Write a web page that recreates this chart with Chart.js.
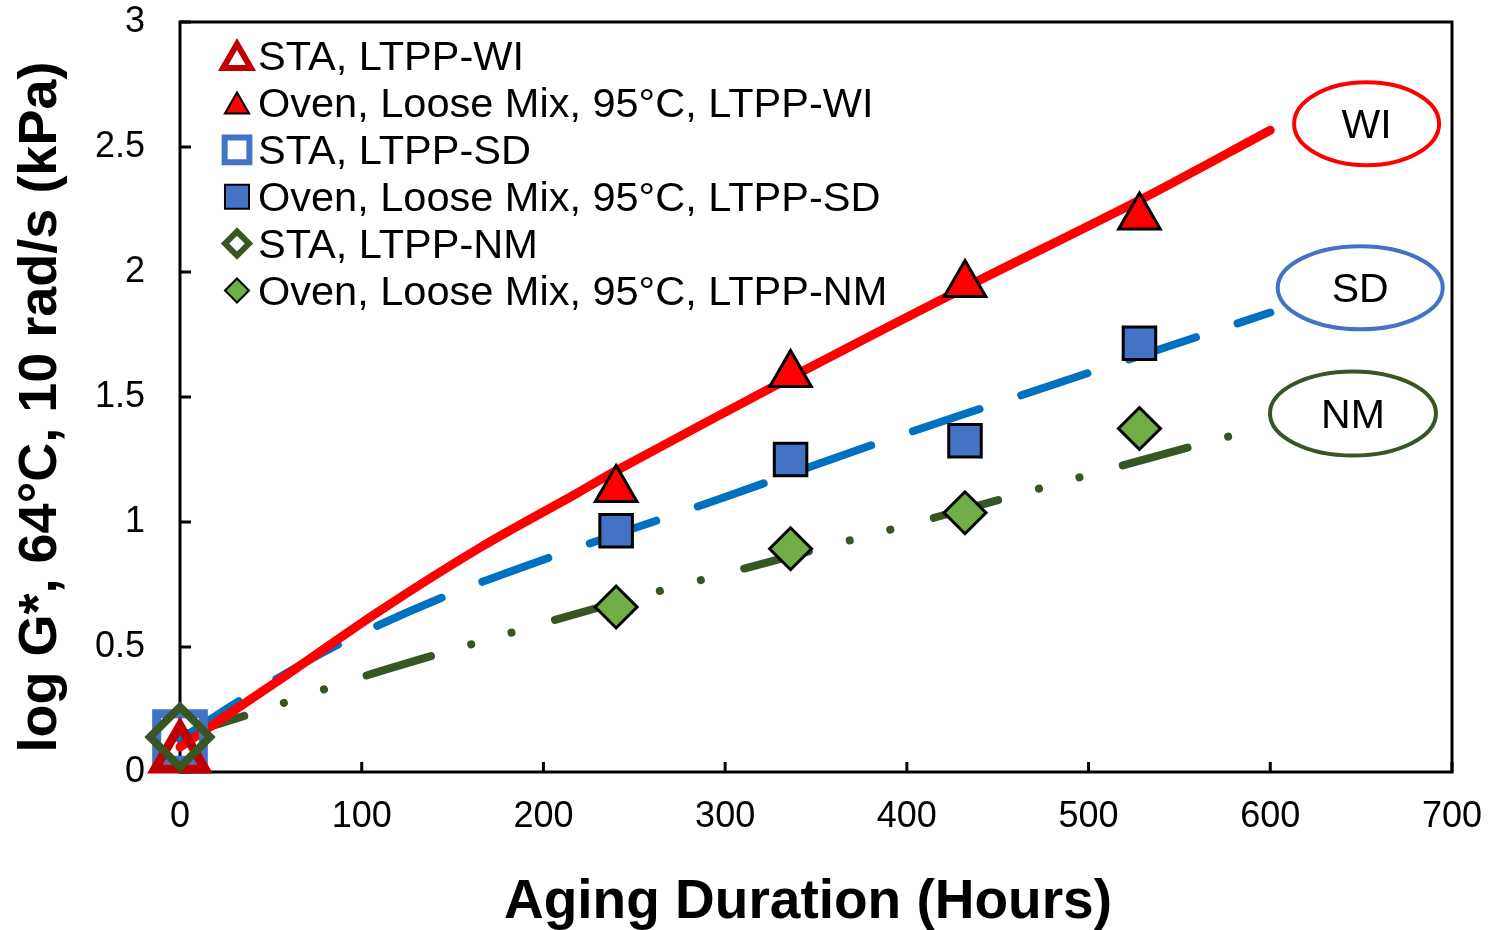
<!DOCTYPE html>
<html>
<head>
<meta charset="utf-8">
<script src="https://cdn.jsdelivr.net/npm/chart.js@4/dist/chart.umd.min.js"></script>
<style>
  html, body { margin: 0; padding: 0; background: #fff; }
</style>
</head>
<body>
<canvas id="chart" width="1495" height="930"></canvas>
<script>
// axis ticks
const xTicks = [0, 100, 200, 300, 400, 500, 600, 700];
const xTickLabels = ['0', '100', '200', '300', '400', '500', '600', '700'];
const yTicks = [0, 0.5, 1, 1.5, 2, 2.5, 3];
const yTickLabels = ['0', '0.5', '1', '1.5', '2', '2.5', '3'];

// STA results (hours, log G*)
const staHours = [0];
const staWI = [0.07];
const staSD = [0.14];
const staNM = [0.14];

// oven loose mix results
const ovenHours = [240, 336, 432, 528];
const ovenWI = [1.13, 1.59, 1.95, 2.22];
const ovenSD = [0.965, 1.25, 1.325, 1.715];
const ovenNM = [0.66, 0.893, 1.037, 1.374];

// trend curves
const trendWIHours = [0, 55, 110, 165, 218, 240, 336, 432, 528, 600];
const trendWI = [0.1, 0.37, 0.645, 0.897, 1.113, 1.205, 1.578, 1.938, 2.287, 2.567];
const trendSDHours = [0, 34, 88, 145, 203, 300, 380, 480, 600];
const trendSD = [0.13, 0.29, 0.513, 0.70, 0.857, 1.10, 1.306, 1.548, 1.838];
const trendNMHours = [0, 40, 100, 160, 230, 310, 415, 518, 580];
const trendNM = [0.145, 0.235, 0.38, 0.51, 0.657, 0.813, 1.017, 1.225, 1.348];

const seriesNames = [
  'STA, LTPP-WI',
  'Oven, Loose Mix, 95°C, LTPP-WI',
  'STA, LTPP-SD',
  'Oven, Loose Mix, 95°C, LTPP-SD',
  'STA, LTPP-NM',
  'Oven, Loose Mix, 95°C, LTPP-NM'
];

const xTitle = 'Aging Duration (Hours)';
const yTitle = 'log G*, 64°C, 10 rad/s (kPa)';

// binder labels next to the curve ends
const bubbleNames = ['WI', 'SD', 'NM'];
const bubbleHours = [653, 649.5, 645.5];
const bubbleValues = [2.593, 1.937, 1.434];

const FONT = "'Liberation Sans', Arial, sans-serif";
const RED = '#FF0000', DARKRED = '#C00000';
const BLUE = '#4472C4', LINEBLUE = '#0070C0';
const GREEN = '#70AD47', DARKGREEN = '#375623';

function pts(xs, ys) {
  return xs.map((x, i) => ({ x: x, y: ys[i] }));
}

function markerSet(label, xs, ys, style, fill, stroke, radius, bw, order) {
  return {
    label: label,
    data: pts(xs, ys),
    showLine: false,
    pointStyle: style,
    pointRadius: radius,
    pointHoverRadius: radius,
    pointBackgroundColor: fill,
    pointBorderColor: stroke,
    pointBorderWidth: bw,
    backgroundColor: fill,
    borderColor: stroke,
    clip: false,
    order: order
  };
}

function trendSet(xs, ys, color, width, dash, order) {
  return {
    label: '',
    data: pts(xs, ys),
    showLine: true,
    pointRadius: 0,
    borderColor: color,
    borderWidth: width,
    borderDash: dash,
    borderCapStyle: 'round',
    borderJoinStyle: 'round',
    tension: 0.3,
    clip: false,
    order: order
  };
}

const datasets = [
  markerSet(seriesNames[0], staHours, staWI, 'triangle', 'rgba(0,0,0,0)', DARKRED, 29, 9, 3),
  markerSet(seriesNames[1], ovenHours, ovenWI, 'triangle', RED, '#000', 24, 3, 1),
  markerSet(seriesNames[2], staHours, staSD, 'rect', 'rgba(0,0,0,0)', BLUE, 33, 9, 4),
  markerSet(seriesNames[3], ovenHours, ovenSD, 'rect', BLUE, '#000', 23, 3, 1),
  markerSet(seriesNames[4], staHours, staNM, 'rectRot', 'rgba(0,0,0,0)', DARKGREEN, 30, 8, 0),
  markerSet(seriesNames[5], ovenHours, ovenNM, 'rectRot', GREEN, '#000', 21, 3, 1),
  trendSet(trendWIHours, trendWI, RED, 9, [], 5),
  trendSet(trendSDHours, trendSD, LINEBLUE, 8, [70, 44], 6),
  trendSet(trendNMHours, trendNM, DARKGREEN, 8, [67, 42, 0.1, 42, 0.1, 45], 7)
];

// legend drawn inside the plot, top-left
const legendRows = [
  { ds: 0, radius: 16, bw: 6 },
  { ds: 1, radius: 14, bw: 2 },
  { ds: 2, radius: 17.5, bw: 6 },
  { ds: 3, radius: 17, bw: 2 },
  { ds: 4, radius: 12, bw: 6 },
  { ds: 5, radius: 12, bw: 2 }
];

const framePlugin = {
  id: 'frame',
  beforeDatasetsDraw(chart) {
    const { ctx, chartArea: a, scales: { x, y } } = chart;
    ctx.save();
    ctx.strokeStyle = '#000';
    ctx.lineWidth = 3;
    ctx.strokeRect(a.left, a.top, a.right - a.left, a.bottom - a.top);
    ctx.beginPath();
    xTicks.forEach(v => {
      const px = x.getPixelForValue(v);
      ctx.moveTo(px, a.bottom);
      ctx.lineTo(px, a.bottom - 10);
    });
    yTicks.forEach(v => {
      const py = y.getPixelForValue(v);
      ctx.moveTo(a.left, py);
      ctx.lineTo(a.left + 11, py);
    });
    ctx.stroke();
    ctx.restore();
  },
  afterDraw(chart) {
    // axis titles
    const { ctx } = chart;
    ctx.save();
    ctx.fillStyle = '#000';
    ctx.textAlign = 'center';
    ctx.textBaseline = 'middle';
    ctx.font = 'bold 55px ' + FONT;
    ctx.fillText(xTitle, 808, 903);
    ctx.translate(41, 407);
    ctx.rotate(-Math.PI / 2);
    ctx.font = 'bold 54px ' + FONT;
    ctx.fillText(yTitle, 0, 0);
    ctx.restore();
  }
};

const bubblePlugin = {
  id: 'bubbles',
  afterDatasetsDraw(chart) {
    const { ctx, scales: { x, y } } = chart;
    const colors = [RED, BLUE, DARKGREEN];
    const radii = [[72.5, 41.5], [82.5, 41.5], [83, 42]];
    ctx.save();
    bubbleNames.forEach((name, i) => {
      const cx = x.getPixelForValue(bubbleHours[i]);
      const cy = y.getPixelForValue(bubbleValues[i]);
      ctx.beginPath();
      ctx.ellipse(cx, cy, radii[i][0], radii[i][1], 0, 0, Math.PI * 2);
      ctx.fillStyle = '#fff';
      ctx.fill();
      ctx.lineWidth = 4;
      ctx.strokeStyle = colors[i];
      ctx.stroke();
      ctx.fillStyle = '#000';
      ctx.font = '41px ' + FONT;
      ctx.textAlign = 'center';
      ctx.textBaseline = 'alphabetic';
      ctx.fillText(name, cx, cy + 14.5);
    });
    ctx.restore();
  }
};

const legendPlugin = {
  id: 'insideLegend',
  afterDraw(chart) {
    const { ctx } = chart;
    ctx.save();
    legendRows.forEach((row, i) => {
      const ds = chart.data.datasets[row.ds];
      const base = 70 + i * 46.9;
      const my = base - 14;
      ctx.fillStyle = ds.pointBackgroundColor;
      ctx.strokeStyle = ds.pointBorderColor;
      ctx.lineWidth = row.bw;
      let cy = my;
      if (ds.pointStyle === 'triangle') cy = my + row.radius * 0.25;
      Chart.helpers.drawPoint(ctx, {
        pointStyle: ds.pointStyle,
        radius: row.radius,
        borderWidth: row.bw,
        rotation: 0
      }, 237, cy);
      ctx.fillStyle = '#000';
      ctx.font = '41.5px ' + FONT;
      ctx.textAlign = 'left';
      ctx.textBaseline = 'alphabetic';
      ctx.fillText(ds.label, 258, base);
    });
    ctx.restore();
  }
};

function noScalePadding(s) {
  s.paddingTop = 0;
  s.paddingBottom = 0;
  s.paddingLeft = 0;
  s.paddingRight = 0;
}

new Chart(document.getElementById('chart'), {
  type: 'scatter',
  data: { datasets: datasets },
  options: {
    responsive: false,
    animation: false,
    devicePixelRatio: 1,
    layout: { autoPadding: false, padding: { top: 22, right: 43, left: 0, bottom: 0 } },
    plugins: {
      legend: { display: false },
      tooltip: { enabled: false }
    },
    scales: {
      x: {
        type: 'linear',
        min: 0,
        max: 700,
        afterBuildTicks: s => { s.ticks = xTicks.map(v => ({ value: v })); },
        afterFit: s => { s.height = 158; noScalePadding(s); },
        grid: { display: false, drawTicks: false },
        border: { display: false },
        ticks: {
          autoSkip: false,
          maxRotation: 0,
          padding: 23,
          color: '#000',
          font: { family: FONT, size: 36 },
          callback: (v, i) => xTickLabels[i]
        },
        title: { display: false }
      },
      y: {
        type: 'linear',
        min: 0,
        max: 3,
        afterBuildTicks: s => { s.ticks = yTicks.map(v => ({ value: v })); },
        afterFit: s => { s.width = 180; noScalePadding(s); },
        grid: { display: false, drawTicks: false },
        border: { display: false },
        ticks: {
          autoSkip: false,
          padding: 35,
          color: '#000',
          font: { family: FONT, size: 36 },
          callback: (v, i) => yTickLabels[i]
        },
        title: { display: false }
      }
    }
  },
  plugins: [framePlugin, bubblePlugin, legendPlugin]
});
</script>
</body>
</html>
